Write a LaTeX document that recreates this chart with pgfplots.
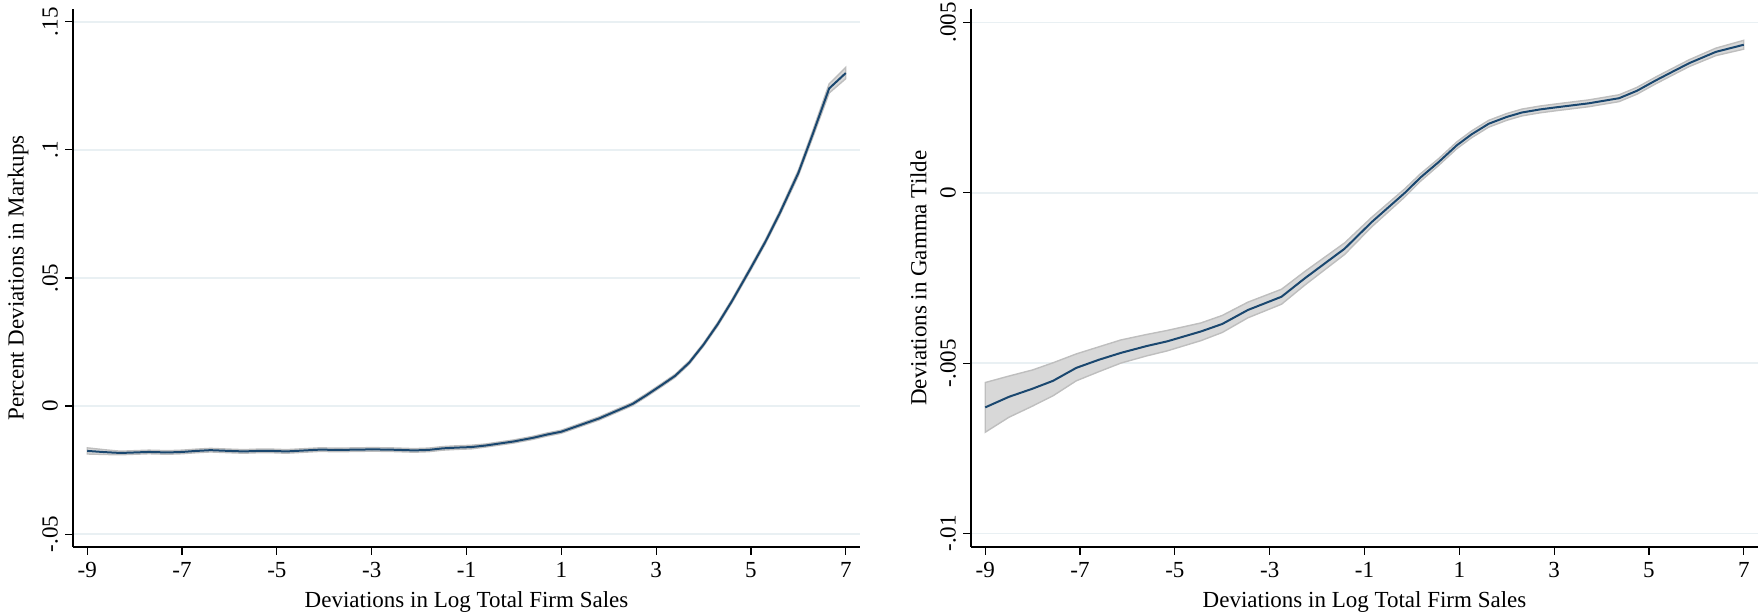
\documentclass[border=0pt]{standalone}
\usepackage{fontspec}
\setmainfont{Liberation Serif}
\usepackage{pgfplots}
\pgfplotsset{compat=1.18}
\definecolor{navy}{RGB}{26,71,111}
\definecolor{bandfill}{RGB}{216,216,216}
\definecolor{bandline}{RGB}{190,190,190}
\definecolor{gridcol}{RGB}{233,240,243}

\pgfplotsset{
  statastyle/.style={
    scale only axis, width=393.5pt, height=269pt,
    xmin=-9.3, xmax=7.3,
    axis lines=left, axis line style={-, line width=0.6pt, black},
    xtick={-9,-7,-5,-3,-1,1,3,5,7},
    xticklabels={-9,-7,-5,-3,-1,1,3,5,7},
    scaled y ticks=false, scaled x ticks=false,
    tick align=outside, major tick length=4pt,
    tick style={black, line width=0.6pt},
    ymajorgrids, grid style={gridcol, line width=0.75pt},
    every tick label/.append style={font=\fontsize{11.5}{13}\selectfont},
    label style={font=\fontsize{11.5}{13}\selectfont},
    yticklabel style={rotate=90, anchor=south},
    xlabel={Deviations in Log Total Firm Sales},
  }
}

\begin{document}
\begin{tikzpicture}
\useasboundingbox (0,0) rectangle (879pt,307.5pt);
\begin{axis}[statastyle, at={(36.5pt,34pt)}, anchor=south west,
  ymin=-0.055, ymax=0.155,
  ytick={-0.05,0,0.05,0.1,0.15},
  yticklabels={-.05,0,.05,.1,.15},
  ylabel={Percent Deviations in Markups}]
% confidence band: upper bound left to right, then lower bound right to left
\addplot[fill=bandfill, draw=bandline, line width=0.7pt] coordinates {
(-9.0,-0.0163) (-8.6,-0.0171) (-8.3,-0.0176) (-8.0,-0.0174) (-7.7,-0.0172)
(-7.3,-0.0174) (-7.0,-0.0172) (-6.7,-0.0168) (-6.4,-0.0165) (-6.0,-0.0168)
(-5.7,-0.0170) (-5.4,-0.0168) (-5.1,-0.0168) (-4.8,-0.0170) (-4.4,-0.0166)
(-4.1,-0.0163) (-3.7,-0.0164) (-3.3,-0.0163) (-3.0,-0.0162) (-2.6,-0.0163)
(-2.1,-0.0166) (-1.8,-0.0164) (-1.5,-0.0158) (-1.2,-0.0155) (-0.9,-0.0153)
(-0.6,-0.0148) (-0.3,-0.0140) (0.0,-0.0132) (0.4,-0.0118) (0.7,-0.0105)
(1.0,-0.0094) (1.4,-0.0068) (1.8,-0.0042) (2.1,-0.0018) (2.5,0.0014)
(2.8,0.0049) (3.1,0.0086) (3.4,0.0124) (3.7,0.0176) (4.0,0.0246)
(4.3,0.0327) (4.6,0.0417) (5.0,0.0548) (5.3,0.0648) (5.6,0.0759)
(6.0,0.0921) (6.3,0.1073) (6.65,0.1258) (7.0,0.1322)
(7.0,0.1278) (6.65,0.1222) (6.3,0.1047) (6.0,0.0899) (5.6,0.0741)
(5.3,0.0632) (5.0,0.0532) (4.6,0.0403) (4.3,0.0313) (4.0,0.0234)
(3.7,0.0164) (3.4,0.0112) (3.1,0.0074) (2.8,0.0037) (2.5,0.0002)
(2.1,-0.0030) (1.8,-0.0054) (1.4,-0.0080) (1.0,-0.0106) (0.7,-0.0117)
(0.4,-0.0130) (0.0,-0.0144) (-0.3,-0.0152) (-0.6,-0.0160) (-0.9,-0.0167)
(-1.2,-0.0169) (-1.5,-0.0172) (-1.8,-0.0178) (-2.1,-0.0180) (-2.6,-0.0177)
(-3.0,-0.0176) (-3.3,-0.0177) (-3.7,-0.0178) (-4.1,-0.0177) (-4.4,-0.0180)
(-4.8,-0.0184) (-5.1,-0.0182) (-5.4,-0.0182) (-5.7,-0.0184) (-6.0,-0.0182)
(-6.4,-0.0179) (-6.7,-0.0182) (-7.0,-0.0186) (-7.3,-0.0188) (-7.7,-0.0186)
(-8.0,-0.0188) (-8.3,-0.0190) (-8.6,-0.0189) (-9.0,-0.0187)
} -- cycle;
% local polynomial fit
\addplot[navy, line width=1pt] table {
x y
-9.0 -0.0175
-8.6 -0.0180
-8.3 -0.0183
-8.0 -0.0181
-7.7 -0.0179
-7.3 -0.0181
-7.0 -0.0179
-6.7 -0.0175
-6.4 -0.0172
-6.0 -0.0175
-5.7 -0.0177
-5.4 -0.0175
-5.1 -0.0175
-4.8 -0.0177
-4.4 -0.0173
-4.1 -0.0170
-3.7 -0.0171
-3.3 -0.0170
-3.0 -0.0169
-2.6 -0.0170
-2.1 -0.0173
-1.8 -0.0171
-1.5 -0.0165
-1.2 -0.0162
-0.9 -0.0160
-0.6 -0.0154
-0.3 -0.0146
0.0 -0.0138
0.4 -0.0124
0.7 -0.0111
1.0 -0.0100
1.4 -0.0074
1.8 -0.0048
2.1 -0.0024
2.5 0.0008
2.8 0.0043
3.1 0.0080
3.4 0.0118
3.7 0.0170
4.0 0.0240
4.3 0.0320
4.6 0.0410
5.0 0.0540
5.3 0.0640
5.6 0.0750
6.0 0.0910
6.3 0.1060
6.65 0.1240
7.0 0.1300
};
\end{axis}
\begin{axis}[statastyle, at={(485.5pt,34pt)}, anchor=south west,
  ymin=-0.0104, ymax=0.0054,
  ytick={-0.01,-0.005,0,0.005},
  yticklabels={-.01,-.005,0,.005},
  ylabel={Deviations in Gamma Tilde}]
\addplot[fill=bandfill, draw=bandline, line width=0.7pt] coordinates {
(-9.0,-0.00557) (-8.5,-0.00538) (-8.0,-0.00520) (-7.57,-0.00499) (-7.08,-0.00473)
(-6.6,-0.00452) (-6.14,-0.00432) (-5.6,-0.00416) (-5.16,-0.00404) (-4.45,-0.00382)
(-4.0,-0.00360) (-3.46,-0.00321) (-2.75,-0.00283) (-2.26,-0.00231) (-1.42,-0.00147)
(-0.85,-0.00072) (-0.15,0.00012) (0.18,0.00056) (0.56,0.00100) (0.95,0.00150)
(1.26,0.00182) (1.62,0.00213) (2.0,0.00233) (2.32,0.00246) (2.7,0.00255)
(3.03,0.00261) (3.73,0.00273) (4.37,0.00288) (4.75,0.00310) (5.14,0.00340)
(5.5,0.00366) (5.85,0.00391) (6.41,0.00425) (7.0,0.00448)
(7.0,0.00422) (6.41,0.00403) (5.85,0.00371) (5.5,0.00346) (5.14,0.00320)
(4.75,0.00290) (4.37,0.00268) (3.73,0.00253) (3.03,0.00241) (2.7,0.00235)
(2.32,0.00226) (2.0,0.00213) (1.62,0.00193) (1.26,0.00162) (0.95,0.00130)
(0.56,0.00080) (0.18,0.00034) (-0.15,-0.00012) (-0.85,-0.00100) (-1.42,-0.00181)
(-2.26,-0.00271) (-2.75,-0.00327) (-3.46,-0.00367) (-4.0,-0.00410) (-4.45,-0.00434)
(-5.16,-0.00464) (-5.6,-0.00479) (-6.14,-0.00500) (-6.6,-0.00525) (-7.08,-0.00552)
(-7.57,-0.00596) (-8.0,-0.00626) (-8.5,-0.00659) (-9.0,-0.00703)
} -- cycle;
\addplot[navy, line width=1pt] table {
x y
-9.0 -0.00630
-8.5 -0.00599
-8.0 -0.00575
-7.57 -0.00552
-7.08 -0.00514
-6.6 -0.00490
-6.14 -0.00470
-5.6 -0.00450
-5.16 -0.00436
-4.45 -0.00407
-4.0 -0.00385
-3.46 -0.00344
-2.75 -0.00305
-2.26 -0.00251
-1.42 -0.00164
-0.85 -0.00086
-0.15 0.00000
0.18 0.00045
0.56 0.00090
0.95 0.00140
1.26 0.00172
1.62 0.00203
2.0 0.00223
2.32 0.00236
2.7 0.00245
3.03 0.00251
3.73 0.00263
4.37 0.00278
4.75 0.00300
5.14 0.00330
5.5 0.00356
5.85 0.00381
6.41 0.00414
7.0 0.00435
};
\end{axis}
\end{tikzpicture}
\end{document}
